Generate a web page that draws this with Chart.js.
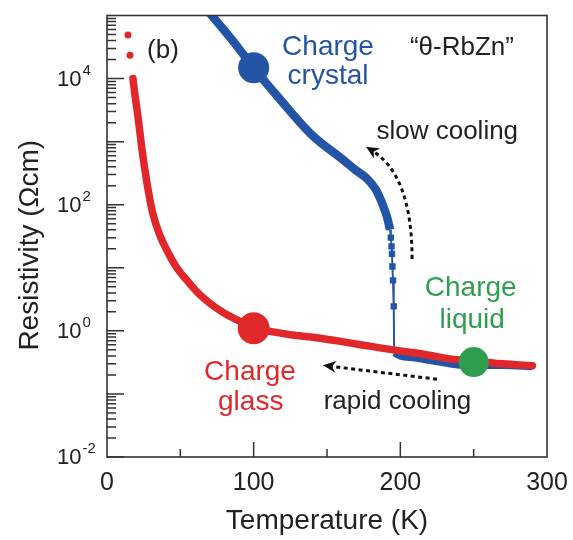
<!DOCTYPE html>
<html>
<head>
<meta charset="utf-8">
<script src="https://cdn.jsdelivr.net/npm/chart.js@4.4.1/dist/chart.umd.min.js"></script>
<style>
  html, body { margin: 0; padding: 0; background: #fff; }
  #wrap { width: 573px; height: 540px; }
</style>
</head>
<body>
<div id="wrap"><canvas id="rhoChart" width="573" height="540"></canvas></div>
<script>
// rapid cooling -> charge glass (resistivity in Ohm cm vs T in K)
const rapidT   = [17.7, 19, 21, 24, 27, 31, 36, 41, 47, 54.5, 62, 70, 80, 89, 100, 111, 125, 143, 170, 195, 215, 234, 250, 270, 290];
const rapidRho = [10000, 5600, 2630, 708, 240, 76, 33, 18.6, 10.5, 6.3, 4.0, 2.75, 1.9, 1.48, 1.10, 0.98, 0.87, 0.78, 0.62, 0.50, 0.43, 0.36, 0.33, 0.30, 0.28];
// two isolated points below 17 K
const rapidDotT   = [14.3, 15.7];
const rapidDotRho = [49000, 23400];

// slow cooling -> charge crystal
const slowT   = [70, 85, 100, 118, 140, 160, 170, 177, 183, 188, 191, 193];
const slowRho = [109600, 41700, 14800, 4680, 1260, 537, 347, 263, 178, 100, 63, 40];
// sparse points through the transition
const dropT   = [193, 193.5, 194, 194.3, 194.6, 195, 195.5, 195.8];
const dropRho = [40, 30, 21.9, 16.6, 10.5, 6.3, 2.45, 0.45];
// above the transition
const liquidT   = [195.8, 200, 210, 225, 235, 245, 255, 270, 290];
const liquidRho = [0.45, 0.398, 0.372, 0.324, 0.295, 0.282, 0.282, 0.282, 0.269];

// big dots: crystal, glass, liquid
const stateT   = [100, 100, 250];
const stateRho = [14800, 1.1, 0.32];

const tempTicks  = [0, 100, 200, 300];
const rhoTickExp = [-2, 0, 2, 4];

const FONT = '"Liberation Sans", Arial, sans-serif';
const BLUE = '#2454a6';
const RED = '#e0282b';
const GREEN = '#2f9e4f';
const INK = '#222';

Chart.defaults.font.family = FONT;

const pts = (xs, ys) => xs.map((t, i) => ({ x: t, y: ys[i] }));

function arrowHead(ctx, x, y, ang) {
    ctx.save();
    ctx.translate(x, y);
    ctx.rotate(ang);
    ctx.beginPath();
    ctx.moveTo(0, 0);
    ctx.lineTo(-13, -6);
    ctx.lineTo(-9, 0);
    ctx.lineTo(-13, 6);
    ctx.closePath();
    ctx.fill();
    ctx.restore();
}

const decor = {
    id: 'decor',
    afterDraw(chart) {
        const { ctx, chartArea: ca, scales: { x, y } } = chart;
        const P = (t, r) => [x.getPixelForValue(t), y.getPixelForValue(r)];
        ctx.save();

        // frame
        ctx.strokeStyle = '#333';
        ctx.lineWidth = 1.6;
        ctx.strokeRect(ca.left, ca.top, ca.right - ca.left, ca.bottom - ca.top);

        // ticks pointing into the plot
        ctx.lineWidth = 1.5;
        ctx.beginPath();
        [50, 100, 150, 200, 250].forEach(t => {
            const xp = x.getPixelForValue(t);
            const len = t % 100 === 0 ? 15 : 8;
            ctx.moveTo(xp, ca.bottom);
            ctx.lineTo(xp, ca.bottom - len);
        });
        for (let e = -2; e < 5; e++) {
            for (let m = 1; m < 10; m++) {
                const v = m * Math.pow(10, e);
                const yp = y.getPixelForValue(v);
                const len = m === 1 ? 17 : 9;
                ctx.moveTo(ca.left, yp);
                ctx.lineTo(ca.left + len, yp);
            }
        }
        ctx.stroke();

        // resistivity tick labels 10^n
        ctx.fillStyle = INK;
        ctx.textAlign = 'left';
        ctx.textBaseline = 'middle';
        rhoTickExp.forEach(e => {
            const yp = y.getPixelForValue(Math.pow(10, e));
            const x0 = ca.left - 50;
            ctx.font = '22px ' + FONT;
            ctx.fillText('10', x0, yp + 1);
            const w = ctx.measureText('10').width;
            ctx.font = '15px ' + FONT;
            ctx.fillText(String(e), x0 + w + 1, yp - 8);
        });

        // resistivity axis title
        ctx.save();
        ctx.translate(ca.left - 69, (ca.top + ca.bottom) / 2 + 9);
        ctx.rotate(-Math.PI / 2);
        ctx.textAlign = 'center';
        ctx.textBaseline = 'alphabetic';
        ctx.font = '28px ' + FONT;
        ctx.fillText('Resistivity (\u03A9cm)', 0, 0);
        ctx.restore();

        // labels inside the plot
        const notes = [
            ['(b)', 27.3, 27500, INK, 26, 'left'],
            ['\u201C\u03B8-RbZn\u201D', 242, 30400, INK, 26, 'center'],
            ['Charge', 150.7, 31600, BLUE, 28, 'center'],
            ['crystal', 150.7, 10700, BLUE, 28, 'center'],
            ['slow cooling', 232, 1440, INK, 26, 'center'],
            ['Charge', 248, 4.7, GREEN, 28, 'center'],
            ['liquid', 249, 1.48, GREEN, 28, 'center'],
            ['Charge', 97.5, 0.22, RED, 28, 'center'],
            ['glass', 98, 0.075, RED, 28, 'center'],
            ['rapid cooling', 198, 0.075, INK, 26, 'center']
        ];
        ctx.textBaseline = 'middle';
        notes.forEach(([txt, t, r, col, size, align]) => {
            const [xp, yp] = P(t, r);
            ctx.fillStyle = col;
            ctx.font = size + 'px ' + FONT;
            ctx.textAlign = align;
            ctx.fillText(txt, xp, yp);
        });

        // dotted arrows
        ctx.strokeStyle = '#111';
        ctx.fillStyle = '#111';
        ctx.lineWidth = 3;
        ctx.setLineDash([4, 3.5]);

        const [s0x, s0y] = P(208, 13.8);
        const [s1x, s1y] = P(208, 295);
        const [s2x, s2y] = P(176.6, 832);
        ctx.beginPath();
        ctx.moveTo(s0x, s0y);
        ctx.quadraticCurveTo(s1x, s1y, s2x + 6, s2y + 4);
        ctx.stroke();

        const [r0x, r0y] = P(225, 0.171);
        const [r1x, r1y] = P(147.3, 0.284);
        ctx.beginPath();
        ctx.moveTo(r0x, r0y);
        ctx.lineTo(r1x + 8, r1y + 1);
        ctx.stroke();

        ctx.setLineDash([]);
        arrowHead(ctx, s2x, s2y, Math.atan2(s2y - s1y, s2x - s1x));
        arrowHead(ctx, r1x, r1y, Math.atan2(r1y - r0y, r1x - r0x));

        ctx.restore();
    }
};

new Chart(document.getElementById('rhoChart').getContext('2d'), {
    type: 'line',
    data: {
        datasets: [
            {
                label: 'states',
                data: pts(stateT, stateRho),
                showLine: false,
                pointRadius: [15.5, 16, 15],
                pointBackgroundColor: [BLUE, RED, GREEN],
                pointBorderWidth: 0,
                clip: 0
            },
            {
                label: 'rapid (sparse)',
                data: pts(rapidDotT, rapidDotRho),
                showLine: false,
                pointRadius: 3.5,
                pointBackgroundColor: RED,
                pointBorderWidth: 0,
                clip: 0
            },
            {
                label: 'rapid cooling',
                data: pts(rapidT, rapidRho),
                borderColor: RED,
                borderWidth: 7.5,
                pointRadius: 0,
                cubicInterpolationMode: 'monotone',
                borderCapStyle: 'round',
                clip: 0
            },
            {
                label: 'slow cooling',
                data: pts(slowT, slowRho),
                borderColor: BLUE,
                borderWidth: 8.5,
                pointRadius: 0,
                cubicInterpolationMode: 'monotone',
                clip: 0
            },
            {
                label: 'slow cooling (transition)',
                data: pts(dropT, dropRho),
                borderColor: BLUE,
                borderWidth: 2,
                pointStyle: 'rect',
                pointRadius: c => (c.dataIndex === 0 || c.dataIndex === dropT.length - 1) ? 0 : 4.5,
                pointBackgroundColor: BLUE,
                pointBorderWidth: 0,
                tension: 0,
                clip: 0
            },
            {
                label: 'slow cooling (liquid)',
                data: pts(liquidT, liquidRho),
                borderColor: BLUE,
                borderWidth: 7,
                pointRadius: 0,
                cubicInterpolationMode: 'monotone',
                clip: 0
            }
        ]
    },
    options: {
        responsive: false,
        animation: false,
        events: [],
        devicePixelRatio: 1,
        layout: { padding: { top: 9, right: 26, bottom: 0, left: 0 } },
        plugins: {
            legend: { display: false },
            tooltip: { enabled: false }
        },
        scales: {
            x: {
                type: 'linear',
                min: 0,
                max: 300,
                afterBuildTicks: axis => { axis.ticks = tempTicks.map(v => ({ value: v })); },
                afterFit: axis => { axis.height = 83; },
                grid: { display: false },
                border: { display: false },
                ticks: { color: INK, font: { size: 25 }, padding: 3, maxRotation: 0 },
                title: {
                    display: true,
                    text: 'Temperature (K)',
                    color: INK,
                    font: { size: 28 },
                    padding: { top: 0, bottom: 2 }
                }
            },
            y: {
                type: 'logarithmic',
                min: 0.01,
                max: 100000,
                afterFit: axis => { axis.width = 107; },
                grid: { display: false },
                border: { display: false },
                ticks: { display: false }
            }
        }
    },
    plugins: [decor]
});
</script>
</body>
</html>
